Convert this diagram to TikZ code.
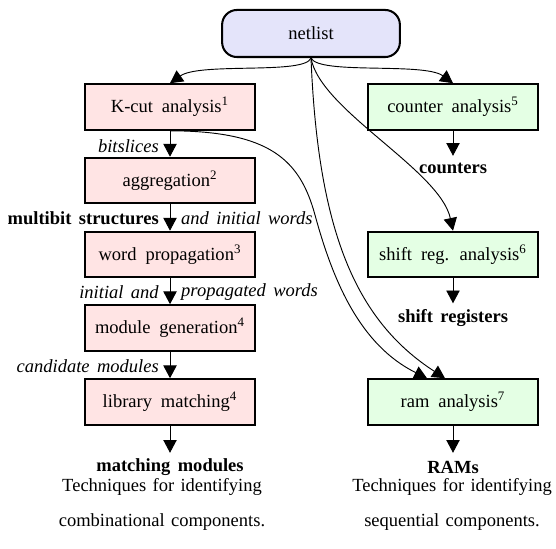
\documentclass[tikz,border=0pt]{standalone}
\usepackage{fontspec}
\setmainfont{Liberation Serif}
\usetikzlibrary{arrows.meta,calc}
\definecolor{netfill}{RGB}{228,228,250}
\definecolor{combfill}{RGB}{255,228,228}
\definecolor{seqfill}{RGB}{228,255,228}
\begin{document}
\begin{tikzpicture}[x=0.54pt,y=-0.54pt,
  font=\fontsize{10}{12}\selectfont,
  box/.style={draw, line width=1.1pt, minimum width=91.8pt, minimum height=24.6pt, inner sep=0pt,
    execute at begin node={\spaceskip=4.8pt plus 1pt}},
  comb/.style={box, fill=combfill},
  seq/.style={box, fill=seqfill},
  arr/.style={-{Triangle[length=6.9pt,width=7.2pt]}, line width=0.5pt},
  lab/.style={inner sep=1pt, execute at begin node={\spaceskip=4pt plus 1pt}},
  captxt/.style={align=center, font=\fontsize{10}{18.9}\selectfont, execute at begin node={\spaceskip=3.4pt plus 1pt}}
  ]
\useasboundingbox (0,0) rectangle (556,548);

% source
\node[draw, line width=1.1pt, fill=netfill, rounded corners=8pt, minimum width=96pt, minimum height=25.4pt, inner sep=0pt] (net) at (311,33.5) {netlist};

% combinational column
\node[comb] (kcut) at (170,107) {K-cut analysis\textsuperscript{1}};
\node[comb] (agg)  at (170,180.5) {aggregation\textsuperscript{2}};
\node[comb] (wp)   at (170,254.5) {word propagation\textsuperscript{3}};
\node[comb] (mg)   at (170,328) {module generation\textsuperscript{4}};
\node[comb] (lm)   at (170,402) {library matching\textsuperscript{4}};
\node[lab, font=\fontsize{10}{12}\selectfont\bfseries] (mm) at (170,467) {matching modules};

% sequential column
\node[seq] (ca) at (453,107) {counter analysis\textsuperscript{5}};
\node[lab, font=\fontsize{10}{12}\selectfont\bfseries] (cnt) at (453,168) {counters};
\node[seq] (sr) at (453,254.5) {shift reg. analysis\textsuperscript{6}};
\node[lab, font=\fontsize{10}{12}\selectfont\bfseries] (srs) at (453,318) {shift registers};
\node[seq] (ram) at (453,402) {ram analysis\textsuperscript{7}};
\node[lab, font=\fontsize{10}{12}\selectfont\bfseries] (rams) at (453,467) {RAMs};

% edge labels
\node[lab, anchor=east] (l1) at (161,146) {\textit{bitslices}};
\node[lab, anchor=east, font=\fontsize{10}{12}\selectfont\bfseries] (l2a) at (161,218) {multibit structures};
\node[lab, anchor=west] (l2b) at (179,218) {\textit{and initial words}};
\node[lab, anchor=east] (l3a) at (161,292) {\textit{initial and}};
\node[lab, anchor=west] (l3b) at (179,292) {\textit{propagated words}};
\node[lab, anchor=east] (l4) at (161,366) {\textit{candidate modules}};

% captions
\node[captxt] (capL) at (162,504.5) {Techniques for identifying\\combinational components.};
\node[captxt] (capR) at (452,504.5) {Techniques for identifying\\sequential components.};

% vertical arrows
\draw[arr] (kcut) -- (agg);
\draw[arr] (agg) -- (wp);
\draw[arr] (wp) -- (mg);
\draw[arr] (mg) -- (lm);
\draw[arr] (lm.south) -- ($(lm.south)+(0,27)$) coordinate (lmend);
\draw[arr] (ca.south) -- ($(ca.south)+(0,25)$) coordinate (caend);
\draw[arr] (sr.south) -- ($(sr.south)+(0,25)$) coordinate (srend);
\draw[arr] (ram.south) -- ($(ram.south)+(0,27)$) coordinate (ramend);

% curved edges from netlist
\draw[arr] (net.south) .. controls (305,75) and (200,62) .. (kcut.north);
\draw[arr] (net.south) .. controls (319,75) and (424,62) .. (ca.north);
\draw[arr] (net.south) .. controls (320,110) and (440,170) .. (sr.north);
\draw[arr] (net.south) .. controls (318,230) and (355,320) .. ($(ram.north)+(-8,0)$);
% K-cut to ram
\draw[arr] (kcut.south) .. controls (270,131) and (300,160) .. (315,215)
                        .. controls (333,281) and (360,345) .. ($(ram.north)+(-26,0)$);
\end{tikzpicture}
\end{document}
